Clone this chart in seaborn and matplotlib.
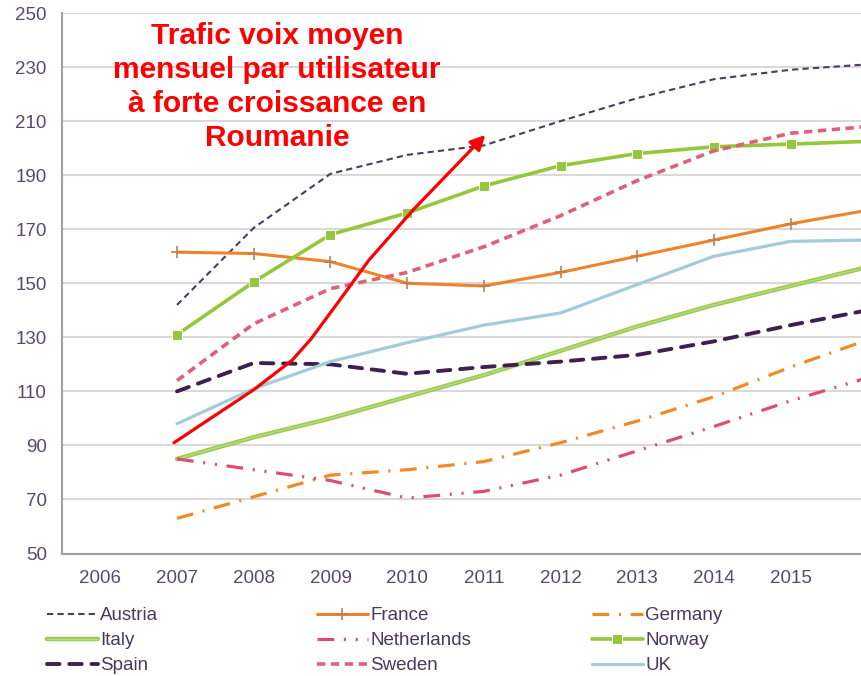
import matplotlib
matplotlib.use("Agg")
import matplotlib.pyplot as plt
import matplotlib.patheffects as pe
import seaborn as sns
from matplotlib.ticker import FixedLocator

# data
years = [2007, 2008, 2009, 2010, 2011, 2012, 2013, 2014, 2015, 2016]
austria = [142, 170.5, 190.5, 197.5, 201, 210, 218.5, 225.5, 229, 231]
france = [161.5, 161, 158, 150, 149, 154, 160, 166, 172, 177]
germany = [63, 71, 79, 81, 84, 91, 99, 108, 119, 129]
italy = [85, 93, 100, 108, 116, 125, 134, 142, 149, 156]
netherlands = [85, 81, 77, 70.5, 73, 79, 88, 97, 106.5, 115]
norway = [131, 150.5, 168, 176, 186, 193.5, 198, 200.5, 201.5, 202.5]
spain = [110, 120.5, 120, 116.5, 119, 121, 123.5, 128.5, 134.5, 140]
sweden = [114, 135, 148, 154, 163.5, 175, 188, 199, 205.5, 208]
uk = [98, 111, 121, 128, 134.5, 139, 149.5, 160, 165.5, 166]

# red hand-drawn arrow (Romania)
arrow_x = [2006.96, 2008.0, 2008.5, 2008.75, 2009.0, 2009.5, 2010.08, 2011.02]
arrow_y = [91, 110.6, 121.5, 129.5, 139.1, 158.5, 177.2, 204.9]

title_lines = ["Trafic voix moyen", "mensuel par utilisateur",
               "à forte croissance en", "Roumanie"]
x_labels = [str(y) for y in range(2006, 2016)]
y_ticks = list(range(50, 251, 20))

sns.set_style("white")
plt.rcParams["font.family"] = ["Liberation Sans", "DejaVu Sans"]
plt.rcParams["lines.scale_dashes"] = False

fig = plt.figure(figsize=(8.61, 6.76), dpi=100)
ax = fig.add_axes([62 / 861, 1 - 553.5 / 676, 1 - 62 / 861, (553.5 - 13) / 676])

series = [
    ("Austria", austria, dict(color="#4e3b5e", lw=1.5, linestyle=(0, (4.5, 3)))),
    ("France", france, dict(color="#f0822a", lw=2.2, marker="+", ms=8, mew=1.2, mec="#c08050")),
    ("Germany", germany, dict(color="#f08a24", lw=2.3, linestyle=(0, (12, 7, 1.5, 7)))),
    ("Italy", italy, dict(color="#b6dc7c", lw=1.0,
                          path_effects=[pe.Stroke(linewidth=3.2, foreground="#9ccb52"), pe.Normal()])),
    ("Netherlands", netherlands, dict(color="#de4e6c", lw=2.3, linestyle=(0, (12, 7, 1.5, 7, 1.5, 7)))),
    ("Norway", norway, dict(color="#94c83c", lw=2.6, marker="s", ms=7)),
    ("Spain", spain, dict(color="#3f1f50", lw=2.8, linestyle=(0, (9, 7)), dash_capstyle="round")),
    ("Sweden", sweden, dict(color="#e0607a", lw=2.6, linestyle=(0, (6, 4)))),
    ("UK", uk, dict(color="#a3cbd8", lw=2.3)),
]

handles = {}
for name, vals, kw in series:
    sns.lineplot(x=years, y=vals, ax=ax, label=name, legend=False, **kw)
    handles[name] = ax.lines[-1]

# red annotation arrow
ax.plot(arrow_x[:-1], arrow_y[:-1], color="#ff0000", lw=2.3, solid_joinstyle="round", zorder=5)
ax.annotate("", xy=(arrow_x[-1], arrow_y[-1]), xytext=(arrow_x[-2], arrow_y[-2]),
            arrowprops=dict(arrowstyle="-|>", color="#ff0000", lw=2.3, mutation_scale=22,
                            shrinkA=0, shrinkB=0), zorder=5)

ax.set_xlim(2005.5, 2005.5 + (861 - 62) / 76.7)
ax.set_ylim(50, 250)
ax.set_yticks(y_ticks)
ax.set_xticks(range(2006, 2016))
ax.set_xticklabels(x_labels)
ax.xaxis.set_minor_locator(FixedLocator([y + 0.5 for y in range(2005, 2016)]))
ax.tick_params(axis="x", which="major", length=0, pad=12, labelsize=13.5, labelcolor="#5a4a6a")
ax.tick_params(axis="x", which="minor", length=5, width=1.2, color="#a0a0a0", direction="out")
ax.tick_params(axis="y", length=5, width=1.2, color="#a0a0a0", direction="out", pad=6,
               labelsize=13.5, labelcolor="#5a4a6a")
ax.grid(axis="y", color="#d9d9d9", lw=1.5)
ax.grid(axis="x", visible=False)
ax.set_axisbelow(True)
for s in ["top", "right"]:
    ax.spines[s].set_visible(False)
for s in ["left", "bottom"]:
    ax.spines[s].set_color("#a0a0a0")
    ax.spines[s].set_linewidth(1.5)

for i, line in enumerate(title_lines):
    fig.text(277 / 861, 1 - (36.5 + i * 33.7) / 676, line, ha="center", va="center",
             fontsize=21.5, fontweight="bold", color="#ff0000")

# legend: three fixed-width columns like the original
columns = [["Austria", "Italy", "Spain"],
           ["France", "Netherlands", "Sweden"],
           ["Germany", "Norway", "UK"]]
col_x = [47, 317, 592]
for names, x0 in zip(columns, col_x):
    leg = fig.legend([handles[n] for n in names], names, loc="upper left",
                     bbox_to_anchor=(x0 / 861, 1 - 607 / 676), frameon=False, fontsize=13.5,
                     handlelength=2.7, handletextpad=0.15, labelspacing=0.42,
                     borderpad=0, borderaxespad=0)
    for t in leg.get_texts():
        t.set_color("#4a3a5a")

fig.savefig("out.png", dpi=100)
